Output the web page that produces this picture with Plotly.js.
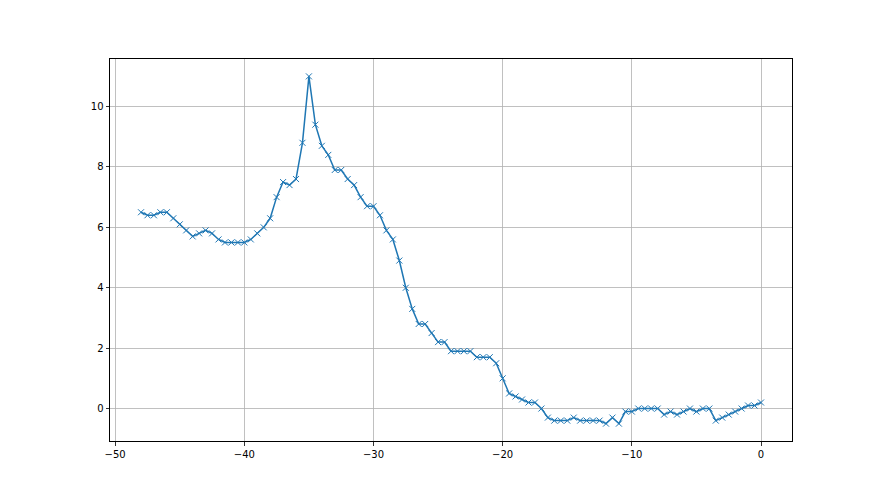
<!DOCTYPE html>
<html>
<head>
<meta charset="utf-8">
<script src="https://cdn.plot.ly/plotly-3.0.1.min.js"></script>
<style>html,body{margin:0;padding:0;background:#fff;}#chart{width:880px;height:495px;}</style>
</head>
<body>
<div id="chart"></div>
<script>
const xStart = -48;
const xStep = 0.5;
const yValues = [
  6.5, 6.4, 6.4, 6.5, 6.5, 6.3, 6.1, 5.9, 5.7, 5.8,
  5.9, 5.8, 5.6, 5.5, 5.5, 5.5, 5.5, 5.6, 5.8, 6.0,
  6.3, 7.0, 7.5, 7.4, 7.6, 8.8, 11.0, 9.4, 8.7, 8.4,
  7.9, 7.9, 7.6, 7.4, 7.0, 6.7, 6.7, 6.4, 5.9, 5.6,
  4.9, 4.0, 3.3, 2.8, 2.8, 2.5, 2.2, 2.2, 1.9, 1.9,
  1.9, 1.9, 1.7, 1.7, 1.7, 1.5, 1.0, 0.5, 0.4, 0.3,
  0.2, 0.2, 0.0, -0.3, -0.4, -0.4, -0.4, -0.3, -0.4, -0.4,
  -0.4, -0.4, -0.5, -0.3, -0.5, -0.1, -0.1, 0.0, 0.0, 0.0,
  0.0, -0.2, -0.1, -0.2, -0.1, 0.0, -0.1, 0.0, 0.0, -0.4,
  -0.3, -0.2, -0.1, 0.0, 0.1, 0.1, 0.2
];
const xValues = yValues.map((_, i) => xStart + i * xStep);
const xTicks = [-50, -40, -30, -20, -10, 0];
const xTickText = ["\u221250", "\u221240", "\u221230", "\u221220", "\u221210", "0"];
const yTicks = [0, 2, 4, 6, 8, 10];
const yTickText = ["0", "2", "4", "6", "8", "10"];

const trace = {
  x: xValues, y: yValues, type: 'scatter', mode: 'lines+markers',
  line: {color: '#1f77b4', width: 1.5},
  marker: {symbol: 'x-thin', size: 6, color: '#1f77b4', line: {color: '#1f77b4', width: 1}},
  hoverinfo: 'none'
};
const axisCommon = {
  showline: true, linecolor: '#000', linewidth: 1, mirror: true,
  showgrid: true, gridcolor: '#b0b0b0', gridwidth: 0.8,
  zeroline: false, ticks: 'outside', ticklen: 3.5, tickwidth: 0.8, tickcolor: '#000',
  tickfont: {family: 'DejaVu Sans', size: 10, color: '#000'}
};
const layout = {
  width: 880, height: 495,
  margin: {l: 110, r: 88, t: 59, b: 54, pad: 0},
  paper_bgcolor: '#fff', plot_bgcolor: '#fff',
  showlegend: false,
  xaxis: Object.assign({}, axisCommon, {range: [-50.4, 2.4], tickvals: xTicks, ticktext: xTickText}),
  yaxis: Object.assign({}, axisCommon, {range: [-1.075, 11.575], tickvals: yTicks, ticktext: yTickText})
};
Plotly.newPlot('chart', [trace], layout, {staticPlot: true, displayModeBar: false});
</script>
</body>
</html>
